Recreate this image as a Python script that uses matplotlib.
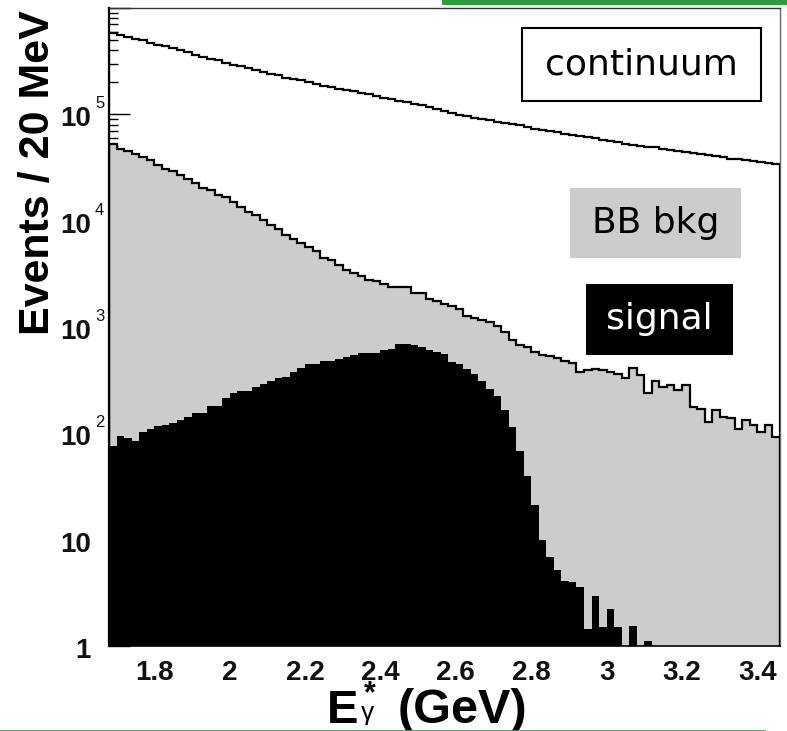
import numpy as np
import matplotlib
matplotlib.use('Agg')
import matplotlib.pyplot as plt
from matplotlib.patches import Rectangle
from matplotlib.lines import Line2D
from matplotlib import transforms
from matplotlib.ticker import FixedLocator, LogLocator, NullFormatter

# ---- data (20 MeV bins starting at 1.68 GeV) ----
bin_low = 1.68
bin_width = 0.02

# signal (black)
signal = [76, 94, 90, 85, 102, 109, 118, 121, 124, 133, 143, 157, 157, 180, 180,
          217, 237, 249, 249, 273, 294, 312, 328, 340, 378, 416, 444, 444, 477, 477,
          498, 517, 551, 575, 575, 575, 605, 627, 689, 699, 675, 650, 614, 580,
          555, 464, 450, 401, 365, 312, 264, 224, 165, 114, 68, 40, 21, 10, 6.8,
          5.2, 4.1, 4.0, 3.6, 1.45, 2.95, 1.5, 2.25, 1.5, 0, 1.55, 0, 1.12, 0,
          0, 0, 0, 0, 0, 0, 0, 0, 0, 0, 0, 0, 0, 0, 0, 0]

# signal + BB background (stacked, grey)
signal_plus_bb = [52600, 47600, 45200, 42700, 39700, 36900, 33700, 30900, 29100, 26700,
                  24500, 22600, 20500, 19300, 17600, 16700, 15000, 13500, 12100, 11200,
                  10100, 9200, 8300, 7400, 6680, 6220, 5660, 5160, 4460, 4250,
                  3870, 3420, 3250, 3030, 2760, 2690, 2560, 2380, 2380, 2380,
                  2070, 2110, 1850, 1760,
                  1660, 1570, 1490, 1270, 1220, 1175, 1117, 1025, 888, 752,
                  675, 651, 584, 543, 535, 513, 477, 454, 379, 398,
                  407, 393, 379, 358, 333, 413, 352, 237, 310, 274,
                  284, 255, 284, 177, 171, 128, 165, 143, 140, 111,
                  133, 119, 103, 121, 93]

# signal + BB + continuum (stacked total, outline)
stack_total = [581000, 557000, 533000, 514000, 496000, 472000, 452000, 436000, 420000, 405000,
               385000, 364000, 346000, 334000, 322000, 306000, 293000, 285000, 273000, 259000,
               248000, 241000, 233000, 221000, 215000, 209000, 201000, 194000, 186000, 181000,
               174000, 171000, 164000, 159000, 154000, 148000, 142000, 138000, 133000, 130000,
               126000, 122000, 117000, 113000,
               107000, 104000, 99300, 95800, 93000, 91000, 87800, 85400, 82900, 80500,
               78800, 76100, 73400, 71700, 69700, 67700, 65800, 64400, 62500, 61200,
               59500, 57800, 56100, 54500, 53000, 51100, 50400, 49600, 48900, 47600,
               46500, 45500, 44500, 43300, 42400, 41500, 40300, 39400, 38300, 37700,
               37000, 36200, 35400, 34900, 34400]

x_ticks = [1.8, 2.0, 2.2, 2.4, 2.6, 2.8, 3.0, 3.2, 3.4]
x_tick_labels = ['1.8', '2', '2.2', '2.4', '2.6', '2.8', '3', '3.2', '3.4']
y_ticks = [1, 10, 100, 1000, 10000, 100000]
y_tick_base = ['1', '10', '10', '10', '10', '10']
y_tick_exp = ['', '', '2', '3', '4', '5']

legend_labels = ['continuum', 'BB bkg', 'signal']

# ---- figure ----
W, H = 787, 731
fig = plt.figure(figsize=(W / 100, H / 100), dpi=100)
ax = fig.add_axes([109 / W, 1 - 646 / H, 671 / W, 638 / H])

n = len(signal)
edges = bin_low + bin_width * np.arange(n + 1)
base = 0.05

ax.stairs(np.asarray(stack_total, float), edges, baseline=base, fill=False,
          color='black', lw=1.6, zorder=3)
ax.stairs(np.asarray(signal_plus_bb, float), edges, baseline=base, fill=True,
          facecolor='#cccccc', edgecolor='black', lw=1.6, zorder=2)
ax.stairs(np.clip(np.asarray(signal, float), base, None), edges, baseline=base,
          fill=True, facecolor='black', edgecolor='none', lw=0, zorder=2.5)

ax.set_yscale('log')
ax.set_ylim(1, 1e6)
ax.set_xlim(edges[0], edges[-1])
ax.set_axisbelow(True)

ax.set_xticks(x_ticks)
ax.set_xticklabels(x_tick_labels)
ax.tick_params(axis='x', length=0, pad=10, labelsize=20)
for lbl in ax.get_xticklabels():
    lbl.set_fontweight('bold')
    lbl.set_family('Liberation Sans')
    lbl.set_color('#111111')

ax.yaxis.set_major_locator(FixedLocator(y_ticks + [1e6]))
ax.yaxis.set_minor_locator(LogLocator(base=10, subs=range(2, 10), numticks=20))
ax.yaxis.set_major_formatter(NullFormatter())
ax.yaxis.set_minor_formatter(NullFormatter())
ax.tick_params(axis='y', which='major', direction='in', length=15, width=1, color='black')
ax.tick_params(axis='y', which='minor', direction='in', length=6.5, width=1, color='black')

trans = transforms.blended_transform_factory(ax.transAxes, ax.transData)
for v, b, e in zip(y_ticks, y_tick_base, y_tick_exp):
    tb = transforms.offset_copy(trans, fig=fig, x=-18, y=-12, units='dots')
    ax.text(0, v, b, transform=tb, ha='right', va='baseline', fontsize=20,
            fontweight='bold', family='Liberation Sans', color='#111111', clip_on=False)
    if e:
        te = transforms.offset_copy(trans, fig=fig, x=-14, y=6, units='dots')
        ax.text(0, v, e, transform=te, ha='left', va='baseline', fontsize=12,
                family='Liberation Sans', color='#111111', clip_on=False)

ax.spines['left'].set_linewidth(1.6)
ax.spines['left'].set_color('black')
ax.spines['bottom'].set_linewidth(1.2)
ax.spines['bottom'].set_color('black')
ax.spines['top'].set_linewidth(1.0)
ax.spines['top'].set_color('#333333')
ax.spines['right'].set_linewidth(1.0)
ax.spines['right'].set_color('#666666')

# axis titles
fig.text(38 / W, 1 - 10 / H, 'Events / 20 MeV', rotation=90, ha='center', va='top',
         fontsize=31, fontweight='bold', family='Liberation Sans')
# x title: E*_gamma (GeV), assembled from pieces like the original
fig.text(327 / W, 1 - 723 / H, 'E', ha='left', va='baseline',
         fontsize=34, fontweight='bold', family='Liberation Sans')
fig.text(364 / W, 1 - 702 / H, '*', ha='left', va='baseline',
         fontsize=22, fontweight='bold', family='Liberation Sans')
fig.text(361 / W, 1 - 720 / H, '\u03b3', ha='left', va='baseline',
         fontsize=19, family='Liberation Sans')
fig.text(527 / W, 1 - 723 / H, '(GeV)', ha='right', va='baseline',
         fontsize=35, fontweight='bold', family='Liberation Sans')

# label boxes
def box(x0, y0, x1, y1, face, edge, lw):
    fig.add_artist(Rectangle((x0 / W, 1 - y1 / H), (x1 - x0) / W, (y1 - y0) / H,
                             transform=fig.transFigure, facecolor=face,
                             edgecolor=edge, lw=lw, zorder=5))

box(522, 28, 761, 101, 'white', 'black', 1.5)
fig.text(641.5 / W, 1 - 64.5 / H, legend_labels[0], ha='center', va='center',
         fontsize=26, family='DejaVu Sans', color='black', zorder=6)
box(570, 188, 741, 258, '#cccccc', 'none', 0)
fig.text(655.5 / W, 1 - 223 / H, legend_labels[1], ha='center', va='center',
         fontsize=26, family='DejaVu Sans', color='black', zorder=6)
box(586, 284, 733, 355, 'black', 'none', 0)
fig.text(659.5 / W, 1 - 319.5 / H, legend_labels[2], ha='center', va='center',
         fontsize=26, family='DejaVu Sans', color='white', zorder=6)

# slide decorations
fig.add_artist(Rectangle((442 / W, 1 - 5 / H), (787 - 442) / W, 5 / H,
                         transform=fig.transFigure, facecolor='#2f9b3a',
                         edgecolor='none', zorder=5))
fig.add_artist(Line2D([0, 765 / W], [1 - 730.5 / H] * 2, transform=fig.transFigure,
                      color='#3c9f3c', lw=1.2, zorder=5))

fig.savefig('out.png', dpi=100)
